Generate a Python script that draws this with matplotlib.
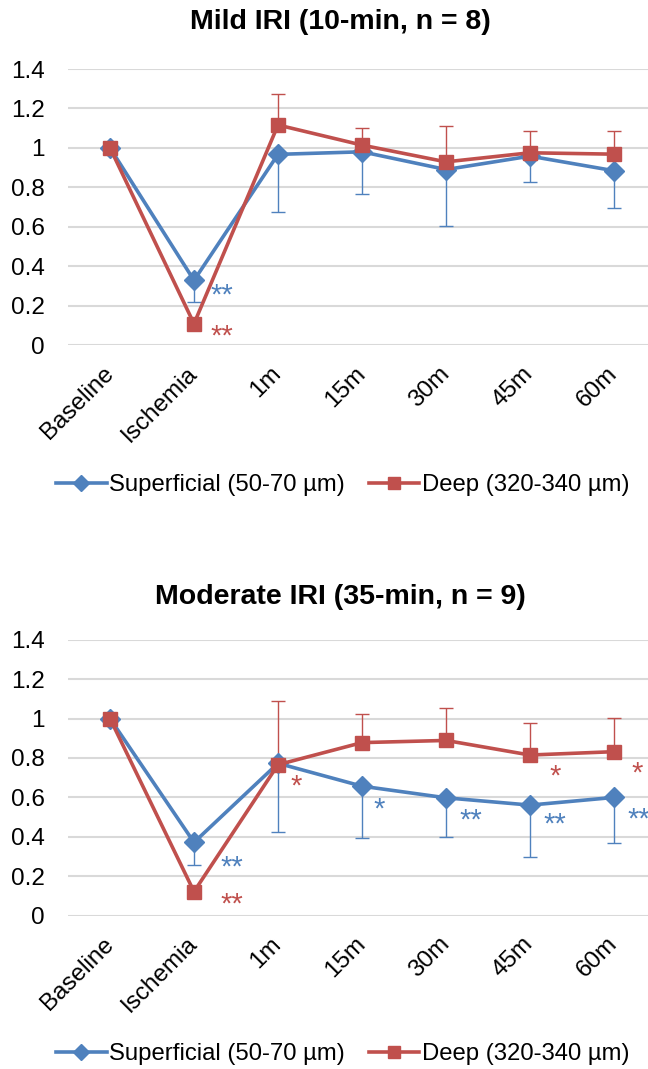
import numpy as np
import matplotlib
matplotlib.use('Agg')
import matplotlib.pyplot as plt
from matplotlib.lines import Line2D

plt.rcParams['font.family'] = ['Liberation Sans', 'DejaVu Sans']

categories = ['Baseline', 'Ischemia', '1m', '15m', '30m', '45m', '60m']

# Mild IRI (10-min)
mild_sup = [1.0, 0.328, 0.967, 0.98, 0.89, 0.958, 0.884]
mild_sup_err = [0.0, 0.11, 0.293, 0.213, 0.286, 0.132, 0.19]
mild_deep = [1.0, 0.108, 1.116, 1.014, 0.929, 0.975, 0.968]
mild_deep_err = [0.0, 0.0, 0.155, 0.088, 0.182, 0.11, 0.119]
mild_stars = [(1.33, 0.25, '**', 'sup'), (1.33, 0.045, '**', 'deep')]

# Moderate IRI (35-min)
mod_sup = [1.0, 0.372, 0.773, 0.657, 0.598, 0.561, 0.6]
mod_sup_err = [0.0, 0.117, 0.35, 0.265, 0.199, 0.261, 0.23]
mod_deep = [1.0, 0.122, 0.766, 0.878, 0.889, 0.815, 0.832]
mod_deep_err = [0.0, 0.0, 0.321, 0.146, 0.166, 0.165, 0.17]
mod_stars = [(1.45, 0.245, '**', 'sup'), (1.45, 0.058, '**', 'deep'),
             (2.22, 0.655, '*', 'deep'), (3.21, 0.54, '*', 'sup'),
             (4.30, 0.483, '**', 'sup'), (5.30, 0.46, '**', 'sup'),
             (6.29, 0.49, '**', 'sup'), (5.30, 0.705, '*', 'deep'),
             (6.27, 0.72, '*', 'deep')]

BLUE = '#4F81BD'
RED = '#C0504D'
W, H = 648, 1069


def draw_panel(fig, y0, title, title_y, sup, sup_err, deep, deep_err, stars, leg_y):
    # y0: pixel row of the zero line
    ax = fig.add_axes([68 / W, (H - y0) / H, 588 / W, 276 / H])
    x = np.arange(len(categories))
    ax.set_xlim(-0.5, len(categories) - 0.5)
    ax.set_ylim(0, 1.4)
    ax.set_yticks(np.arange(0, 1.41, 0.2))
    ax.set_yticklabels(['0', '0.2', '0.4', '0.6', '0.8', '1', '1.2', '1.4'])
    ax.grid(axis='y', color='#D9D9D9', linewidth=1.5)
    ax.set_axisbelow(True)
    for s in ax.spines.values():
        s.set_visible(False)
    ax.tick_params(axis='both', length=0, labelsize=17.5)
    ax.tick_params(axis='y', pad=16.5)
    ax.set_xticks(x)
    ax.set_xticklabels(categories, rotation=45, ha='right', va='center',
                       rotation_mode='anchor')
    ax.tick_params(axis='x', pad=18)

    ax.errorbar(x, sup, yerr=[sup_err, np.zeros(len(x))], fmt='none',
                ecolor=BLUE, elinewidth=1, capsize=5, capthick=1, clip_on=False)
    ax.errorbar(x, deep, yerr=[np.zeros(len(x)), deep_err], fmt='none',
                ecolor=RED, elinewidth=1, capsize=5, capthick=1, clip_on=False)
    ax.plot(x, sup, color=BLUE, lw=2.6, marker='D', ms=10, clip_on=False, zorder=3)
    ax.plot(x, deep, color=RED, lw=2.6, marker='s', ms=10, clip_on=False, zorder=4)

    for sx, sy, txt, ser in stars:
        ax.text(sx, sy, txt, color=BLUE if ser == 'sup' else RED, fontsize=21,
                ha='center', va='center', clip_on=False)

    fig.text(340 / W, (H - title_y) / H, title, ha='center', va='center',
             fontsize=20.5, fontweight='bold')

    h1 = Line2D([], [], color=BLUE, lw=2.6, marker='D', ms=8)
    h2 = Line2D([], [], color=RED, lw=2.6, marker='s', ms=8)
    fig.legend([h1, h2], ['Superficial (50-70 µm)', 'Deep (320-340 µm)'],
               loc='center', bbox_to_anchor=(343 / W, (H - leg_y) / H),
               ncol=2, frameon=False, fontsize=17.2, handlelength=2.1,
               handletextpad=0.12, columnspacing=1.0)


fig = plt.figure(figsize=(W / 100, H / 100), dpi=100)
draw_panel(fig, 345, 'Mild IRI (10-min, n = 8)', 22,
           mild_sup, mild_sup_err, mild_deep, mild_deep_err, mild_stars, 485)
draw_panel(fig, 915.7, 'Moderate IRI (35-min, n = 9)', 597,
           mod_sup, mod_sup_err, mod_deep, mod_deep_err, mod_stars, 1054)
fig.savefig('out.png', dpi=100)
